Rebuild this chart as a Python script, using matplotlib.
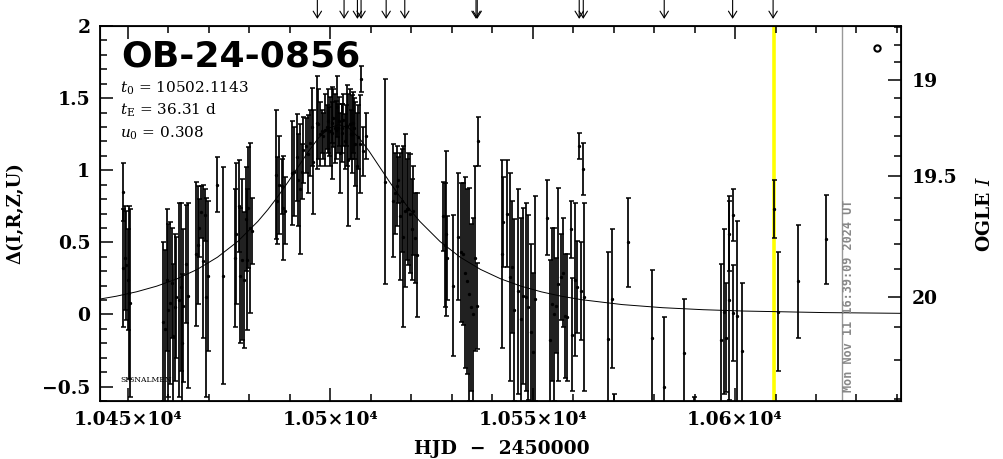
import numpy as np
import matplotlib.pyplot as plt
from matplotlib.ticker import MultipleLocator, FuncFormatter, FixedLocator

plt.rcParams['font.family'] = ['DejaVu Serif']
plt.rcParams['mathtext.fontset'] = 'dejavuserif'

# baseline magnitude and blending that tie the OGLE I scale to Delta
I0 = 20.06
fs = 0.476

# fit parameters shown on the plot
event_name = 'OB-24-0856'
t0_txt = '10502.1143'
tE_txt = '36.31'
u0_txt = '0.308'

# photometry: HJD - 2450000, Delta (mag), error
hjd = [
    10448.7, 10448.8, 10449.2, 10449.5, 10449.9, 10450.3, 10450.6,
    10458.6, 10459.1, 10459.6, 10460.0, 10460.4, 10460.8, 10461.2, 10461.6, 10462.0, 10462.7, 10463.1, 10463.3, 10463.7, 10464.3, 10464.9,
    10466.8, 10467.2, 10467.6, 10468.0, 10468.5, 10469.0, 10469.4, 10469.8,
    10471.9, 10473.6,
    10476.4, 10476.8, 10477.5, 10477.8, 10478.3, 10478.7, 10479.2, 10479.3, 10479.7, 10480.1, 10480.6,
    10486.6, 10486.9, 10487.4, 10488.0, 10488.4, 10488.8,
    10490.6, 10491.0, 10491.7, 10491.9, 10492.5, 10492.9, 10493.3, 10494.0, 10494.6, 10495.0, 10495.4, 10495.8,
    10496.6, 10497.0, 10497.4, 10497.9, 10498.3, 10498.8, 10499.1, 10499.5, 10499.7, 10499.9,
    10500.3, 10500.5, 10500.7, 10501.1, 10501.3, 10501.6, 10502.0, 10502.2, 10502.4, 10502.8,
    10503.0, 10503.2, 10503.6, 10503.9, 10504.2, 10504.4, 10504.9, 10505.0, 10505.3, 10505.7,
    10505.9, 10506.1, 10506.5, 10506.9, 10507.3, 10507.7, 10508.1, 10508.8,
    10513.5,
    10515.6, 10516.0, 10516.4, 10516.8, 10517.2, 10517.6, 10518.0, 10518.4, 10518.9, 10519.3, 10519.7, 10520.1, 10520.5, 10520.9, 10521.5,
    10527.8, 10528.3, 10528.6, 10528.8, 10530.4, 10531.6, 10532.2, 10532.7, 10533.3, 10533.7, 10534.3, 10534.8, 10535.3, 10535.7, 10536.3, 10536.6,
    10542.3, 10542.7, 10543.7, 10544.4, 10544.8, 10545.4, 10546.4, 10547.0, 10547.7, 10548.3, 10548.9, 10549.5, 10550.0, 10550.6,
    10553.6, 10554.3, 10554.7, 10555.3, 10555.8, 10556.3, 10556.9, 10557.4, 10558.0, 10558.6, 10559.4, 10559.6, 10560.5, 10560.9, 10561.5, 10562.0, 10562.5, 10562.7,
    10568.5, 10569.7, 10570.1, 10573.5, 10579.6, 10582.5, 10587.5, 10589.9,
    10596.5, 10597.3, 10597.7, 10598.4, 10598.5, 10599.4, 10599.6, 10600.4, 10601.6,
    10609.5, 10610.5, 10615.5, 10622.5,
]
delta = [
    0.85, 0.32, 0.39, 0.34, 0.24, 0.15, 0.08,
    -0.05, -0.10, 0.24, 0.03, 0.08, 0.22, -0.15, 0.05, 0.12, 0.10, 0.19, -0.20, 0.06, 0.35, 0.13,
    0.42, 0.48, 0.60, 0.71, 0.37, 0.69, 0.12, 0.27,
    0.90, 0.27,
    0.39, 0.56, 0.75, 0.27, 0.38, 0.24, 0.66, 0.38, 0.74, 0.60, 0.58,
    0.97, 0.79, 0.90, 0.89, 0.74, 0.72,
    0.98, 0.99, 1.09, 0.93, 0.87, 0.99, 1.14, 1.17, 1.11, 1.19, 1.30, 1.06,
    1.33, 1.32, 1.25, 1.27, 1.24, 1.28, 1.30, 1.34, 1.27, 1.27,
    1.26, 1.33, 1.36, 1.29, 1.28, 1.44, 1.29, 1.34, 1.12, 1.29,
    1.26, 1.35, 1.20, 1.31, 1.31, 1.07, 1.32, 1.25, 1.25, 1.33,
    1.29, 1.18, 1.03, 1.23, 1.18, 1.63, 1.13, 1.24,
    0.92,
    0.79, 0.84, 0.89, 0.93, 0.68, 0.79, 0.54, 0.72, 0.73, 0.73, 0.70, 0.59, 0.72, 0.53, 0.41,
    0.68, 0.48, 0.56, 0.39, 0.20, 0.54, 0.43, 0.42, 0.29, 0.23, 0.14, 0.05, 0.00, 0.39, 0.06, 1.20,
    0.42, 0.64, 0.70, 0.26, 0.33, 0.03, 0.16, -0.03, 0.13, 0.12, 0.05, -0.12, -0.26, 0.11,
    0.67, -0.18, 0.07, 0.00, 0.06, 0.21, 0.26, 0.29, -0.01, -0.02, 0.59, -0.14, 0.24, 0.19, 1.17, 0.16, 1.01, 0.12,
    -0.17, 0.11, -0.90, 0.50, -0.16, -0.50, -0.27, -0.90,
    -0.18, 0.02, -0.16, 0.56, 0.10, 0.69, 0.01, -0.01, -0.25,
    0.73, 0.02, 0.23, 0.52,
]
delta_err = [
    0.20, 0.41, 0.36, 0.38, 0.35, 0.60, 0.65,
    0.55, 0.55, 0.49, 0.60, 0.56, 0.38, 0.50, 0.51, 0.42, 0.67, 0.58, 0.48, 0.53, 0.41, 0.64,
    0.50, 0.41, 0.20, 0.18, 0.53, 0.18, 0.69, 0.52,
    0.19, 0.75,
    0.48, 0.49, 0.32, 0.47, 0.56, 0.47, 0.36, 0.49, 0.42, 0.59, 0.23,
    0.45, 0.30, 0.34, 0.19, 0.36, 0.23,
    0.36, 0.31, 0.30, 0.32, 0.45, 0.19, 0.23, 0.19, 0.27, 0.23, 0.27, 0.36,
    0.32, 0.24, 0.22, 0.15, 0.16, 0.25, 0.15, 0.22, 0.17, 0.24,
    0.32, 0.14, 0.20, 0.24, 0.20, 0.21, 0.17, 0.17, 0.28, 0.17,
    0.20, 0.18, 0.19, 0.14, 0.28, 0.46, 0.24, 0.17, 0.27, 0.21,
    0.21, 0.29, 0.37, 0.22, 0.34, 0.09, 0.17, 0.16,
    0.71,
    0.39, 0.28, 0.28, 0.16, 0.44, 0.36, 0.63, 0.53, 0.35, 0.39, 0.41, 0.35, 0.31, 0.31, 0.43,
    0.24, 0.43, 0.57, 0.29, 0.49, 0.44, 0.48, 0.49, 0.66, 0.64, 0.74, 0.58, 0.67, 0.64, 0.30, 0.17,
    0.65, 0.31, 0.37, 0.72, 0.46, 0.63, 0.71, 0.70, 0.61, 0.65, 0.64, 0.61, 0.55, 0.71,
    0.26, 0.56, 0.53, 0.60, 0.33, 0.67, 0.30, 0.38, 0.43, 0.44, 0.20, 0.39, 0.53, 0.32, 0.09, 0.34, 0.18, 0.65,
    0.60, 0.48, 0.35, 0.31, 0.47, 0.48, 0.38, 0.33,
    0.53, 0.57, 0.38, 0.26, 0.69, 0.18, 0.33, 0.66, 0.47,
    0.20, 0.41, 0.39, 0.31,
]

# model light curve (Delta in mag)
model_hjd = [10442.11, 10447.11, 10452.11, 10457.11, 10462.11, 10467.11, 10472.11, 10477.11, 10482.11,
             10484.61, 10487.11, 10489.61, 10492.11, 10494.61, 10497.11, 10499.61, 10502.11,
             10504.61, 10507.11, 10509.61, 10512.11, 10514.61, 10517.11, 10519.61, 10522.11,
             10527.11, 10532.11, 10537.11, 10542.11, 10547.11, 10552.11, 10557.11, 10562.11,
             10572.11, 10582.11, 10592.11, 10602.11, 10622.11, 10642.11]
model_delta = [0.1023, 0.1264, 0.1570, 0.1963, 0.2468, 0.3123, 0.3967, 0.5058, 0.6455,
               0.7283, 0.8205, 0.9205, 1.0258, 1.1310, 1.2245, 1.2915, 1.3160,
               1.2915, 1.2245, 1.1310, 1.0258, 0.9205, 0.8205, 0.7283, 0.6455,
               0.5058, 0.3967, 0.3123, 0.2468, 0.1963, 0.1570, 0.1264, 0.1023,
               0.0685, 0.0469, 0.0330, 0.0237, 0.0130, 0.0076]

# alert arrows above the frame, current time (yellow) and plot time (gray)
arrow_hjd = [10496.8, 10503.4, 10506.7, 10507.6, 10513.8, 10518.4, 10536.0, 10536.3,
             10561.5, 10562.5, 10582.5, 10599.4, 10609.4]
now_hjd = 10609.5
plot_hjd = 10626.3
stamp = 'Mon Nov 11 16:39:09 2024 UT'

right_major = [19.0, 19.5, 20.0]
right_minor = [18.7, 18.8, 18.9, 19.1, 19.2, 19.3, 19.4, 19.6, 19.7, 19.8, 19.9, 20.1, 20.2, 20.3]


def to_delta(mag):
    amp = 1 + (10 ** (-0.4 * (np.asarray(mag, dtype=float) - I0)) - 1) / fs
    return 2.5 * np.log10(np.clip(amp, 1e-4, None))


fig = plt.figure(figsize=(10.04, 4.59), dpi=100)
ax = fig.add_axes([100 / 1004, 1 - 401 / 459, 801 / 1004, 375 / 459])

ax.axvline(now_hjd, color='#ffff00', lw=2.6, zorder=1)
ax.axvline(plot_hjd, color='#999999', lw=1.0, zorder=1)
ax.plot(model_hjd, model_delta, color='black', lw=0.7, zorder=2)
ax.errorbar(hjd, delta, yerr=delta_err, fmt='.', ms=2.8, color='black', ecolor='black',
            elinewidth=1.25, capsize=1.8, capthick=1.1, zorder=3)

ax.set_xlim(10443.1, 10641.0)
ax.set_ylim(-0.6, 2.0)

ax.xaxis.set_major_locator(MultipleLocator(50))
ax.xaxis.set_minor_locator(MultipleLocator(10))
ax.yaxis.set_major_locator(MultipleLocator(0.5))
ax.yaxis.set_minor_locator(MultipleLocator(0.1))
ax.xaxis.set_major_formatter(FuncFormatter(lambda v, p: f'{v / 1e4:g}×10⁴'))
ax.yaxis.set_major_formatter(FuncFormatter(lambda v, p: f'{v:g}'.replace('-', '−')))

ax.tick_params(which='both', direction='in', top=True, right=False, width=1.1)
ax.tick_params(which='major', length=9.5, labelsize=13.5, pad=7)
ax.tick_params(which='minor', length=5)
for lab in ax.get_xticklabels() + ax.get_yticklabels():
    lab.set_fontweight('bold')
for s in ax.spines.values():
    s.set_linewidth(1.3)

ax2 = ax.twinx()
ax2.set_ylim(ax.get_ylim())
ax2.yaxis.set_major_locator(FixedLocator(to_delta(right_major)))
ax2.yaxis.set_minor_locator(FixedLocator(to_delta(right_minor)))
ax2.set_yticklabels([f'{m:g}' for m in right_major], fontweight='bold')
ax2.tick_params(which='both', direction='in', width=1.1)
ax2.tick_params(which='major', length=9.5, labelsize=13.5, pad=8)
ax2.tick_params(which='minor', length=5)

ax.set_xlabel('HJD  −  2450000', fontsize=13.5, fontweight='bold')
ax.xaxis.set_label_coords(0.502, -0.105)
ax.set_ylabel('Δ(I,R,Z,U)', fontsize=13, fontweight='bold')
ax.yaxis.set_label_coords(-0.094, 0.5)
ax2.set_ylabel('OGLE $I$', fontsize=13.5, fontweight='bold')
ax2.yaxis.set_label_coords(1.094, 0.5)

ax.text(0.027, 0.965, event_name, transform=ax.transAxes, fontsize=26,
        family='DejaVu Sans', fontweight='bold', va='top')
params = [r'$t_0$ = ' + t0_txt, r'$t_{\rm E}$ = ' + tE_txt + ' d', r'$u_0$ = ' + u0_txt]
for k, s in enumerate(params):
    ax.text(0.025, 0.835 - k * 0.061, s, transform=ax.transAxes, fontsize=11, va='center')
ax.text(0.026, 0.056, 'SIGNALMEN', transform=ax.transAxes, fontsize=5.5, va='center')
ax.text(0.934, 0.024, stamp, transform=ax.transAxes, rotation=90, ha='center', va='bottom',
        color='#888888', fontsize=8.5, family='DejaVu Sans Mono', fontweight='bold')
ax.plot([0.970], [0.941], 'o', transform=ax.transAxes, mfc='white', mec='black',
        ms=4.5, mew=1.5, clip_on=False)

for t in arrow_hjd:
    ax.annotate('', xy=(t, 1.019), xytext=(t, 1.069), xycoords=('data', 'axes fraction'),
                textcoords=('data', 'axes fraction'), annotation_clip=False,
                arrowprops=dict(arrowstyle='->, head_length=0.4, head_width=0.25', color='black',
                                lw=0.8, shrinkA=0, shrinkB=0, mutation_scale=12))

fig.savefig('out.png', dpi=100)
